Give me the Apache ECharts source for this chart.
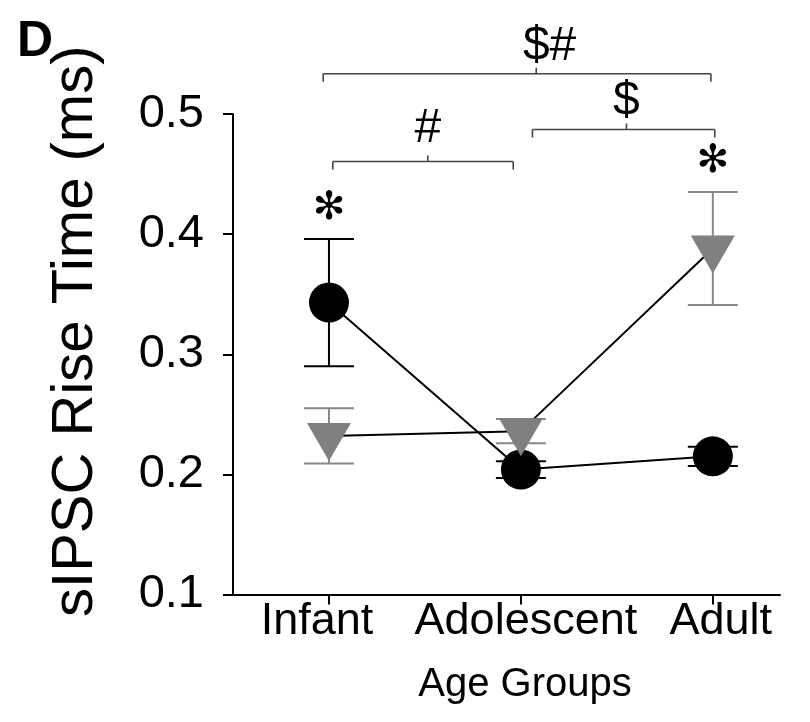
<!DOCTYPE html>
<html>
<head>
<meta charset="utf-8">
<script src="https://cdn.jsdelivr.net/npm/echarts@6/dist/echarts.min.js"></script>
<style>
  html, body { margin: 0; padding: 0; background: #fff; }
  #chart { width: 810px; height: 722px; }
</style>
</head>
<body>
<div id="chart"></div>
<script>
// Age groups on the x axis
const groups = ['Infant', 'Adolescent', 'Adult'];
// Group A (black circles): mean and SEM of rise time, ms
const circleMean = [0.343, 0.204, 0.215];
const circleSem = [0.053, 0.007, 0.008];
// Group B (grey triangles): mean and SEM of rise time, ms
const triMean = [0.232, 0.236, 0.388];
const triSem = [0.023, 0.010, 0.047];
// y axis ticks
const yTicks = [0.1, 0.2, 0.3, 0.4, 0.5];
// significance brackets (group-index coordinates) and their symbols
const bracketStart = [-0.03, 1.06, 0.02];
const bracketEnd = [1.99, 2.01, 0.96];
const bracketMid = [1.08, 1.55, 0.515];
const bracketLevel = [0.5335, 0.4871, 0.4604];
const bracketText = ['$#', '$', '#'];
// groups that differ between A and B
const starGroups = [0, 2];

const FONT = 'Liberation Sans, Arial, sans-serif';
// vertical gap (px) between each bracket and its symbol
const bracketLift = [3, 4, 9];

const chart = echarts.init(document.getElementById('chart'), null, { renderer: 'canvas' });

function errorBars(means, sems, color, z) {
  return {
    type: 'custom',
    z: z,
    silent: true,
    data: means.map((m, i) => [i, m - sems[i], m + sems[i]]),
    renderItem: function (params, api) {
      const x = api.value(0);
      const lo = api.coord([x, api.value(1)]);
      const hi = api.coord([x, api.value(2)]);
      const half = 25;
      const style = { stroke: color, lineWidth: 2 };
      return {
        type: 'group',
        children: [
          { type: 'line', shape: { x1: lo[0], y1: lo[1], x2: hi[0], y2: hi[1] }, style: style },
          { type: 'line', shape: { x1: lo[0] - half, y1: lo[1], x2: lo[0] + half, y2: lo[1] }, style: style },
          { type: 'line', shape: { x1: hi[0] - half, y1: hi[1], x2: hi[0] + half, y2: hi[1] }, style: style }
        ]
      };
    }
  };
}

const bracketData = bracketText.map((t, i) => [bracketStart[i], bracketEnd[i], bracketMid[i], bracketLevel[i], i]);

const starData = starGroups.map(i => [i, Math.max(circleMean[i] + circleSem[i], triMean[i] + triSem[i])]);

const option = {
  animation: false,
  backgroundColor: '#fff',
  title: {
    text: 'D',
    left: 12,
    top: 12,
    textStyle: { fontFamily: FONT, fontWeight: 'bold', fontSize: 50, color: '#000' }
  },
  grid: { left: 233, right: 30, top: 114, bottom: 127.5, containLabel: false },
  xAxis: {
    type: 'value',
    min: -0.5,
    max: 2.35,
    axisLine: { show: true, onZero: false, lineStyle: { color: '#000', width: 2 } },
    axisTick: { show: true, customValues: [0, 1, 2], length: 10, lineStyle: { color: '#000', width: 2 } },
    axisLabel: {
      customValues: [0, 1, 2],
      margin: 5,
      color: '#000',
      fontFamily: FONT,
      fontSize: 45,
      formatter: v => '{g' + Math.round(v) + '|' + groups[Math.round(v)] + '}',
      rich: {
        g0: { fontFamily: FONT, fontSize: 45, color: '#000', padding: [0, 24, 0, 0] },
        g1: { fontFamily: FONT, fontSize: 45, color: '#000', padding: [0, 0, 0, 10] },
        g2: { fontFamily: FONT, fontSize: 45, color: '#000', padding: [0, 0, 0, 16] }
      }
    },
    splitLine: { show: false },
    name: 'Age Groups',
    nameLocation: 'middle',
    nameGap: 70,
    nameTextStyle: { fontFamily: FONT, fontSize: 40, color: '#000', padding: [0, 0, 0, 37] }
  },
  yAxis: {
    type: 'value',
    min: 0.1,
    max: 0.5,
    interval: 0.1,
    axisLine: { show: true, onZero: false, lineStyle: { color: '#000', width: 2 } },
    axisTick: { show: true, customValues: yTicks, length: 10, lineStyle: { color: '#000', width: 2 } },
    axisLabel: {
      customValues: yTicks,
      margin: 29,
      color: '#000',
      fontFamily: FONT,
      fontSize: 47,
      formatter: v => v.toFixed(1)
    },
    splitLine: { show: false },
    name: 'sIPSC Rise Time (ms)',
    nameLocation: 'middle',
    nameRotate: 90,
    nameGap: 128,
    nameTextStyle: { fontFamily: FONT, fontSize: 58, color: '#000', padding: [0, 0, 0, 46] }
  },
  series: [
    errorBars(circleMean, circleSem, '#000', 2),
    {
      type: 'line',
      z: 3,
      data: circleMean.map((v, i) => [i, v]),
      symbol: 'circle',
      symbolSize: 40,
      showSymbol: true,
      itemStyle: { color: '#000' },
      lineStyle: { color: '#000', width: 2 },
      emphasis: { disabled: true }
    },
    errorBars(triMean, triSem, '#888888', 4),
    {
      type: 'line',
      z: 5,
      data: triMean.map((v, i) => [i, v]),
      symbol: 'triangle',
      symbolRotate: 180,
      symbolSize: [44, 38],
      symbolOffset: [0, 6],
      showSymbol: true,
      itemStyle: { color: '#808080' },
      lineStyle: { color: '#000', width: 2 },
      emphasis: { disabled: true }
    },
    {
      type: 'custom',
      z: 6,
      silent: true,
      clip: false,
      data: bracketData,
      renderItem: function (params, api) {
        const y = api.value(3);
        const a = api.coord([api.value(0), y]);
        const b = api.coord([api.value(1), y]);
        const m = api.coord([api.value(2), y]);
        const idx = api.value(4);
        const style = { stroke: '#444', lineWidth: 1.6 };
        const fs = 48;
        return {
          type: 'group',
          children: [
            { type: 'line', shape: { x1: a[0], y1: a[1], x2: b[0], y2: b[1] }, style: style },
            { type: 'line', shape: { x1: a[0], y1: a[1], x2: a[0], y2: a[1] + 8 }, style: style },
            { type: 'line', shape: { x1: b[0], y1: b[1], x2: b[0], y2: b[1] + 8 }, style: style },
            { type: 'line', shape: { x1: m[0], y1: m[1], x2: m[0], y2: m[1] - 6 }, style: style },
            {
              type: 'text',
              style: {
                text: bracketText[idx],
                x: m[0] - 0.278 * fs,
                y: m[1] - bracketLift[idx],
                fontFamily: FONT,
                fontSize: fs,
                fill: '#000',
                align: 'left',
                verticalAlign: 'bottom'
              }
            }
          ]
        };
      }
    },
    {
      type: 'custom',
      z: 7,
      silent: true,
      clip: false,
      data: starData,
      renderItem: function (params, api) {
        const p = api.coord([api.value(0), api.value(1)]);
        return {
          type: 'text',
          style: {
            text: '\u273B',
            x: p[0],
            y: p[1] - 30,
            fontFamily: 'DejaVu Sans',
            fontSize: 39,
            fill: '#000',
            align: 'center',
            verticalAlign: 'middle'
          }
        };
      }
    }
  ]
};

chart.setOption(option);
</script>
</body>
</html>
